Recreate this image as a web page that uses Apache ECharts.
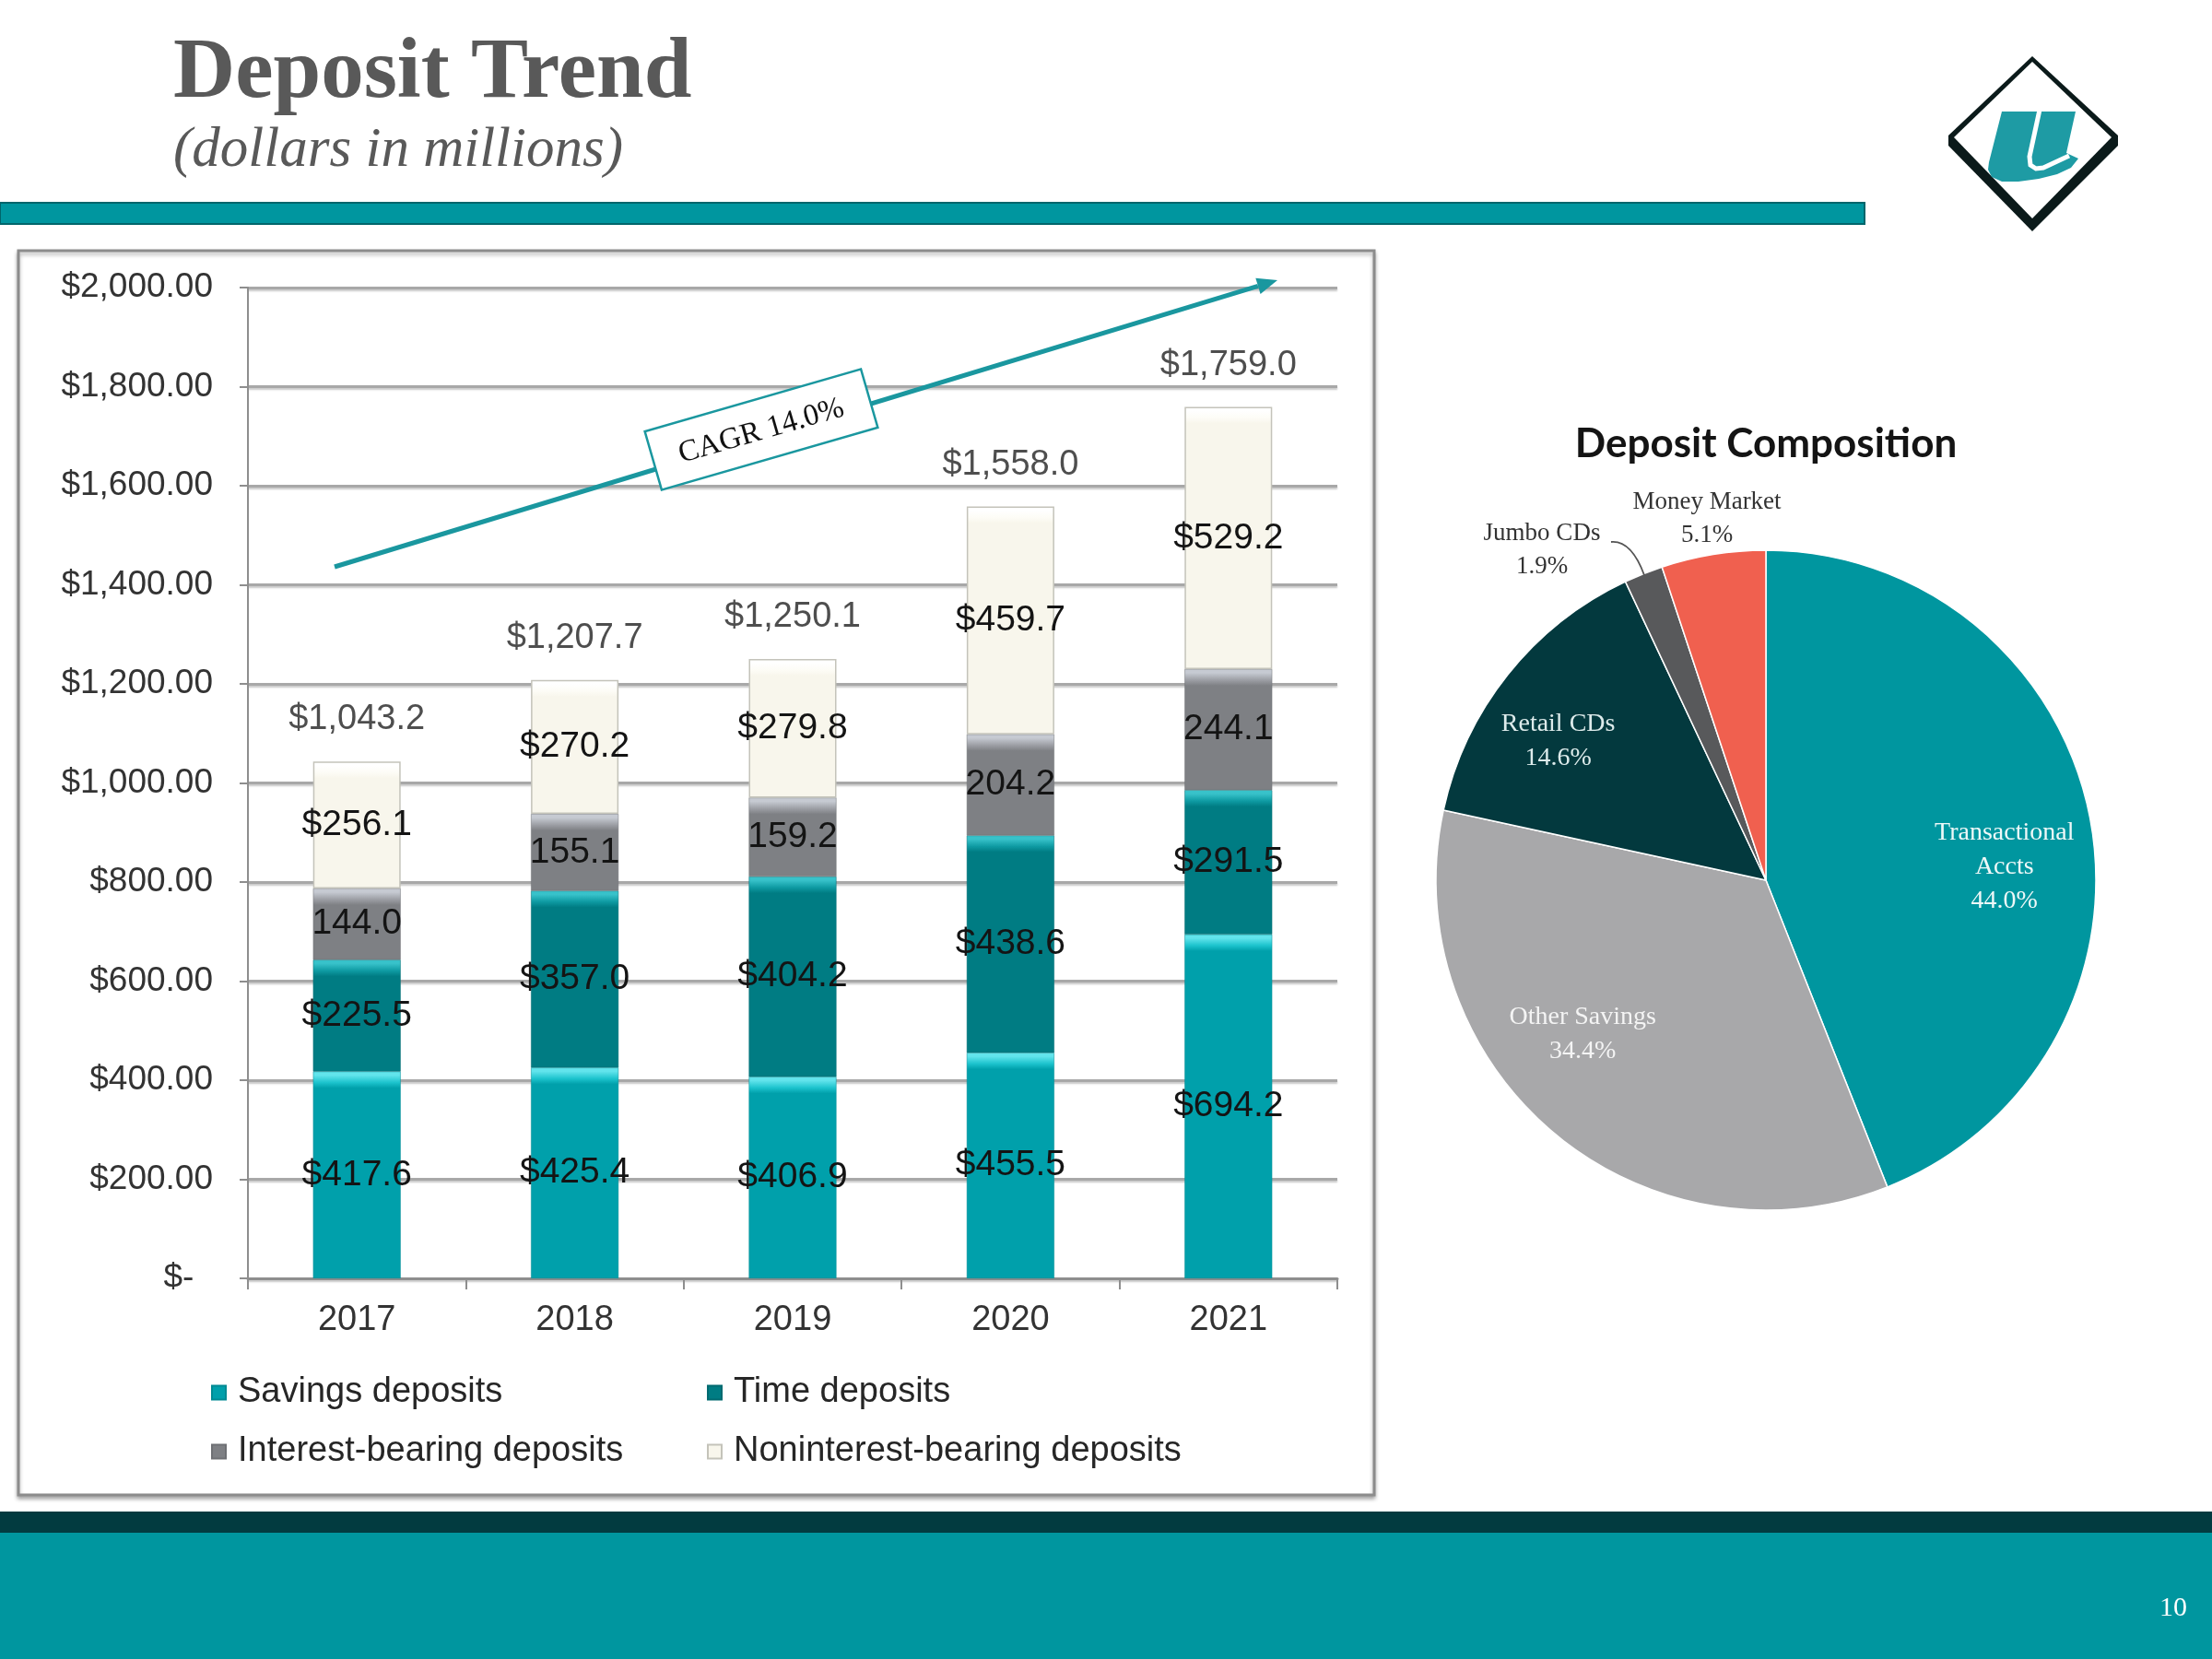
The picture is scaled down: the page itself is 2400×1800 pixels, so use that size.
<!DOCTYPE html>
<html>
<head>
<meta charset="utf-8">
<script src="https://cdn.jsdelivr.net/npm/echarts@6/dist/echarts.min.js"></script>
<style>
html,body{margin:0;padding:0;background:#fff;}
#c{width:2400px;height:1800px;}
</style>
</head>
<body>
<div id="c"></div>
<script>
// ---------------- DATA ----------------
const years = ['2017', '2018', '2019', '2020', '2021'];
const savings = [417.6, 425.4, 406.9, 455.5, 694.2];
const timeDep = [225.5, 357.0, 404.2, 438.6, 291.5];
const interestBearing = [144.0, 155.1, 159.2, 204.2, 244.1];
const nonInterest = [256.1, 270.2, 279.8, 459.7, 529.2];
const totals = [1043.2, 1207.7, 1250.1, 1558.0, 1759.0];
const seriesNames = ['Savings deposits', 'Time deposits', 'Interest-bearing deposits', 'Noninterest-bearing deposits'];
const yMin = 0, yMax = 2000, yStep = 200;

const pieNames = ['Transactional\nAccts', 'Other Savings', 'Retail CDs', 'Jumbo CDs', 'Money Market'];
const pieValues = [44.0, 34.4, 14.6, 1.9, 5.1];

const cagrText = 'CAGR 14.0%';

// ---------------- STYLE ----------------
const PX_PER_UNIT = 1075 / 2000;
const palettes = [
  {top: '#62E4EC', mid: '#1CC3CD', base: '#00A0AB', border: '#008A93'},
  {top: '#38C2CA', mid: '#0E9AA2', base: '#007C83', border: '#006A70'},
  {top: '#C6CAD2', mid: '#9C9EA4', base: '#7E8084', border: '#6E7074'},
  {top: '#FFFFFF', mid: '#FDFCF6', base: '#F8F6EC', border: '#C4C3BA'}
];
const pieColors = ['#00969F', '#A8A8AA', '#03393E', '#58595B', '#F0604F'];
const pieLabelColors = ['#EEF8F8', '#F4F4F4', '#DDEBEB', '#333333', '#333333'];
const pieLabelLayout = [
  {dx: 80, dy: 20},
  {dx: -81, dy: 28},
  {dx: -83, dy: -38},
  {x: 1673, y: 597, align: 'center', verticalAlign: 'middle'},
  {x: 1852, y: 563, align: 'center', verticalAlign: 'middle'}
];

function bevel(v, p) {
  const h = v * PX_PER_UNIT;
  const f1 = Math.min(0.2, 4 / h);
  const f2 = Math.min(0.35, 12 / h);
  const f3 = Math.min(0.45, 18 / h);
  return {
    type: 'linear', x: 0, y: 0, x2: 0, y2: 1,
    colorStops: [
      {offset: 0, color: p.top},
      {offset: f1, color: p.top},
      {offset: f2, color: p.mid},
      {offset: f3, color: p.base},
      {offset: 1, color: p.base}
    ]
  };
}
function money1(v) {
  return '$' + v.toLocaleString('en-US', {minimumFractionDigits: 1, maximumFractionDigits: 1});
}
const sans = '"Liberation Sans", Arial, sans-serif';
const serif = '"Liberation Serif", "Times New Roman", serif';

const stacks = [savings, timeDep, interestBearing, nonInterest];
const labelFmt = [money1, money1, v => v.toFixed(1), money1];

const barSeries = stacks.map((arr, i) => ({
  name: seriesNames[i],
  type: 'bar',
  stack: 'dep',
  barWidth: 95,
  z: 2,
  itemStyle: {color: palettes[i].base, borderColor: palettes[i].border, borderWidth: i === 3 ? 1.5 : 0.5},
  label: {
    show: true, position: 'inside',
    fontFamily: sans, fontSize: 39, color: '#141414',
    textBorderWidth: 0, textShadowBlur: 0,
    formatter: p => labelFmt[i](p.value)
  },
  data: arr.map(v => ({value: v, itemStyle: {color: bevel(v, palettes[i])}}))
}));

const totalSeries = {
  name: 'Total',
  type: 'scatter',
  symbolSize: 1,
  z: 3,
  silent: true,
  itemStyle: {color: 'rgba(0,0,0,0)'},
  label: {
    show: true, position: 'top', distance: 26,
    fontFamily: sans, fontSize: 38, color: '#222222',
    formatter: p => money1(p.value)
  },
  data: totals
};

const pieSeries = {
  type: 'pie',
  center: [1916, 955],
  radius: [0, 358],
  startAngle: 90,
  clockwise: true,
  silent: true,
  itemStyle: {borderColor: '#ffffff', borderWidth: 1.5},
  label: {
    show: true, position: 'inside',
    fontFamily: serif, fontSize: 28, lineHeight: 37,
    textBorderWidth: 0,
    formatter: p => p.name + '\n' + p.value.toFixed(1) + '%'
  },
  labelLine: {show: false},
  labelLayout: p => pieLabelLayout[p.dataIndex],
  data: pieValues.map((v, i) => ({
    name: pieNames[i],
    value: v,
    itemStyle: {color: pieColors[i]},
    label: i >= 3
      ? {position: 'outside', color: pieLabelColors[i], lineHeight: 36, fontSize: 27}
      : {color: pieLabelColors[i]}
  }))
};

// arrow geometry (annotation)
const arrowStart = [363, 615], arrowTip = [1386, 304];
const adx = arrowTip[0] - arrowStart[0], ady = arrowTip[1] - arrowStart[1];
const alen = Math.hypot(adx, ady), ux = adx / alen, uy = ady / alen;
const headL = 22, headW = 9;
const base = [arrowTip[0] - ux * headL, arrowTip[1] - uy * headL];
const headPts = [arrowTip, [base[0] - uy * headW, base[1] + ux * headW], [base[0] + uy * headW, base[1] - ux * headW]];

const option = {
  backgroundColor: '#ffffff',
  animation: false,
  grid: {left: 269, top: 312, right: 949, bottom: 413, containLabel: false},
  legend: [
    {
      data: [seriesNames[0], seriesNames[2]],
      orient: 'vertical', left: 229, top: 1492, itemGap: 26,
      itemWidth: 15, itemHeight: 15, icon: 'rect', padding: 0,
      textStyle: {fontFamily: sans, fontSize: 38, color: '#262626', padding: [0, 0, 0, 8]}
    },
    {
      data: [seriesNames[1], seriesNames[3]],
      orient: 'vertical', left: 767, top: 1492, itemGap: 26,
      itemWidth: 15, itemHeight: 15, icon: 'rect', padding: 0,
      textStyle: {fontFamily: sans, fontSize: 38, color: '#262626', padding: [0, 0, 0, 8]}
    }
  ],
  xAxis: {
    type: 'category',
    data: years,
    axisLine: {show: true, lineStyle: {color: '#8E8E8E', width: 3}},
    axisTick: {show: true, length: 12, lineStyle: {color: '#8E8E8E', width: 2}},
    axisLabel: {fontFamily: sans, fontSize: 38, color: '#333333', margin: 27}
  },
  yAxis: {
    type: 'value',
    min: yMin, max: yMax, interval: yStep,
    axisLine: {show: true, lineStyle: {color: '#8E8E8E', width: 2}},
    axisTick: {show: true, length: 9, lineStyle: {color: '#8E8E8E', width: 2}},
    splitLine: {show: true, lineStyle: {color: '#A8A8A8', width: 3, shadowColor: 'rgba(0,0,0,0.22)', shadowBlur: 2, shadowOffsetY: 2}},
    axisLabel: {
      fontFamily: sans, fontSize: 37, color: '#333333', margin: 38,
      formatter: v => v === 0 ? '$-  ' : '$' + v.toLocaleString('en-US', {minimumFractionDigits: 2, maximumFractionDigits: 2})
    }
  },
  series: barSeries.concat([totalSeries, pieSeries]),
  graphic: [
    // chart frame
    {type: 'rect', z: -10, shape: {x: 20, y: 272, width: 1471, height: 1350},
      style: {fill: '#ffffff', stroke: '#8C8C8C', lineWidth: 3, shadowColor: 'rgba(0,0,0,0.3)', shadowBlur: 4, shadowOffsetY: 3}},
    // header texts
    {type: 'text', x: 188, y: 81, style: {text: 'Deposit Trend', fontFamily: serif, fontWeight: 'bold', fontSize: 93, fill: '#595959', align: 'left', verticalAlign: 'middle'}},
    {type: 'text', x: 188, y: 164, style: {text: '(dollars in millions)', fontFamily: serif, fontStyle: 'italic', fontSize: 61, fill: '#595959', align: 'left', verticalAlign: 'middle'}},
    // header teal band
    {type: 'rect', shape: {x: 0, y: 220, width: 2023, height: 23}, style: {fill: '#00969F', stroke: '#00656B', lineWidth: 2}},
    // footer bands
    {type: 'rect', shape: {x: 0, y: 1640, width: 2400, height: 24}, style: {fill: '#023B40'}},
    {type: 'rect', shape: {x: 0, y: 1663, width: 2400, height: 137}, style: {fill: '#00969F'}},
    {type: 'text', x: 2358, y: 1745, style: {text: '10', fontFamily: serif, fontSize: 30, fill: '#ffffff', align: 'center', verticalAlign: 'middle'}},
    // logo
    {type: 'polygon', shape: {points: [[2205, 61], [2298, 147], [2298, 158], [2205, 251], [2114, 158], [2114, 147]]}, style: {fill: '#0B1A1A'}},
    {type: 'polygon', shape: {points: [[2205, 67], [2291, 149], [2205, 237], [2120, 149]]}, style: {fill: '#ffffff'}},
    {type: 'polygon', shape: {points: [[2172, 121], [2252, 121], [2242, 166], [2255, 172], [2247, 182], [2232, 189], [2212, 194], [2190, 197], [2172, 197], [2161, 192], [2157, 184], [2158, 176]]}, style: {fill: '#1E9BA4'}},
    {type: 'polyline', shape: {points: [[2213, 119], [2202, 170], [2203, 179], [2209, 183], [2217, 182], [2245, 169]]}, style: {fill: null, stroke: '#ffffff', lineWidth: 5}},
    // CAGR arrow
    {type: 'line', z: 5, shape: {x1: arrowStart[0], y1: arrowStart[1], x2: base[0], y2: base[1]}, style: {stroke: '#1A979F', lineWidth: 5}},
    {type: 'polygon', z: 5, shape: {points: headPts}, style: {fill: '#1A979F'}},
    {type: 'rect', z: 6, x: 826, y: 466, rotation: 0.281, shape: {x: -122, y: -33, width: 244, height: 66}, style: {fill: '#ffffff', stroke: '#1A979F', lineWidth: 2.5}},
    {type: 'text', z: 7, x: 826, y: 468, rotation: 0.281, style: {text: cagrText, fontFamily: serif, fontSize: 33, fill: '#111111', align: 'center', verticalAlign: 'middle'}},
    // pie title
    {type: 'text', x: 1916, y: 482, style: {text: 'Deposit Composition', fontFamily: 'Lato, "Open Sans", sans-serif', fontWeight: 'bold', fontSize: 44, fill: '#141414', align: 'center', verticalAlign: 'middle'}},
    // Jumbo CDs leader line
    {type: 'bezierCurve', z: 10, shape: {x1: 1748, y1: 588, cpx1: 1770, cpy1: 586, x2: 1784, y2: 624}, style: {fill: null, stroke: '#555555', lineWidth: 1.8}}
  ]
};

const chart = echarts.init(document.getElementById('c'), null, {renderer: 'canvas'});
chart.setOption(option);
</script>
</body>
</html>
